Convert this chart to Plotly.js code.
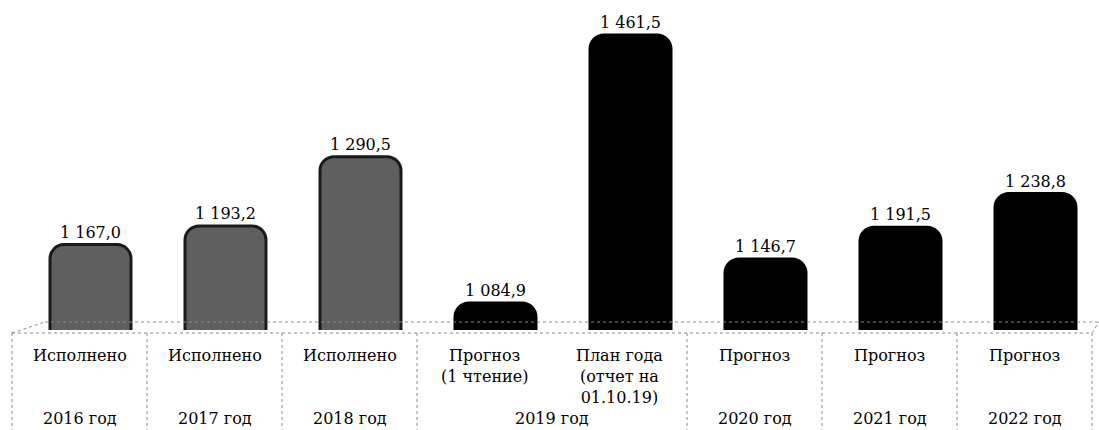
<!DOCTYPE html>
<html><head><meta charset="utf-8">
<script src="https://cdn.plot.ly/plotly-3.0.1.min.js"></script>
<style>body{margin:0;background:#fff}#c{width:1099px;height:430px}</style>
</head><body><div id="c"></div>
<script>
const values = [1167.0, 1193.2, 1290.5, 1084.9, 1461.5, 1146.7, 1191.5, 1238.8];
const catLabels = ['Исполнено','Исполнено','Исполнено','Прогноз<br>(1 чтение)','План года<br>(отчет на<br>01.10.19)','Прогноз','Прогноз','Прогноз'];
const yearLabels = ['2016 год','2017 год','2018 год','2019 год','2020 год','2021 год','2022 год'];
const yearSpans = [[0,0],[1,1],[2,2],[3,4],[5,5],[6,6],[7,7]];
const barColors = ['#5f5f5f','#5f5f5f','#5f5f5f','#000000','#000000','#000000','#000000','#000000'];
const lineColors = ['#1a1a1a','#1a1a1a','#1a1a1a','#000000','#000000','#000000','#000000','#000000'];

const n = values.length;
const shift = -11/135;
const font = {family:'DejaVu Serif, Liberation Serif, serif', size:16, color:'#000'};
const x = values.map((v,i)=>i);

const trace = {
  type:'bar', x:x, y:values, width:0.6,
  marker:{color:barColors, cornerradius:14, line:{color:lineColors,width:3}},
  text: values, texttemplate:'%{y:,.1f}', textposition:'outside', cliponaxis:false,
  textfont:font, hoverinfo:'none'
};

const H = 310; // plot height in px
const py = Y => (330 - Y)/H; // pixel -> paper y
const shapes = [];
const gray = '#8a8a8a';
// 3D floor
shapes.push({type:'line',xref:'paper',yref:'paper',x0:0,x1:33/1080,y0:py(333),y1:py(322),line:{color:gray,width:1,dash:'dot'}});
shapes.push({type:'line',xref:'paper',yref:'paper',x0:33/1080,x1:1087/1080,y0:py(322),y1:py(322),line:{color:gray,width:1,dash:'dot'}});
shapes.push({type:'line',xref:'paper',yref:'paper',x0:1,x1:1087/1080,y0:py(333),y1:py(322),line:{color:gray,width:1,dash:'dot'}});
// table top
shapes.push({type:'line',xref:'paper',yref:'paper',x0:0,x1:1,y0:py(333),y1:py(333),line:{color:gray,width:1,dash:'dot'}});
// table verticals
const bounds = [0,1,2,3,5,6,7,8];
bounds.forEach(k=>shapes.push({type:'line',xref:'paper',yref:'paper',x0:k/n,x1:k/n,y0:py(333),y1:py(432),line:{color:gray,width:1,dash:'dot'}}));

const annotations = [];
catLabels.forEach((t,i)=>annotations.push({xref:'paper',yref:'paper',x:(i+0.5)/n,y:py(344),yanchor:'top',xanchor:'center',
  text:t,showarrow:false,font:font,align:'center'}));
yearLabels.forEach((t,j)=>{const s=yearSpans[j];annotations.push({xref:'paper',yref:'paper',x:((s[0]+s[1])/2+0.5)/n,y:py(430),yanchor:'bottom',xanchor:'center',
  text:t,showarrow:false,font:font});});

const layout = {
  width:1099, height:430, margin:{l:12,r:7,t:20,b:100},
  paper_bgcolor:'#fff', plot_bgcolor:'rgba(0,0,0,0)', separators:', ',
  showlegend:false,
  xaxis:{range:[-0.5+shift, n-0.5+shift], showticklabels:false, showgrid:false, zeroline:false, showline:false, ticks:''},
  yaxis:{range:[1047, 1482.6], showticklabels:false, showgrid:false, zeroline:false, showline:false, ticks:''},
  shapes:shapes, annotations:annotations
};
Plotly.newPlot('c',[trace],layout,{displayModeBar:false,staticPlot:true});
</script></body></html>
